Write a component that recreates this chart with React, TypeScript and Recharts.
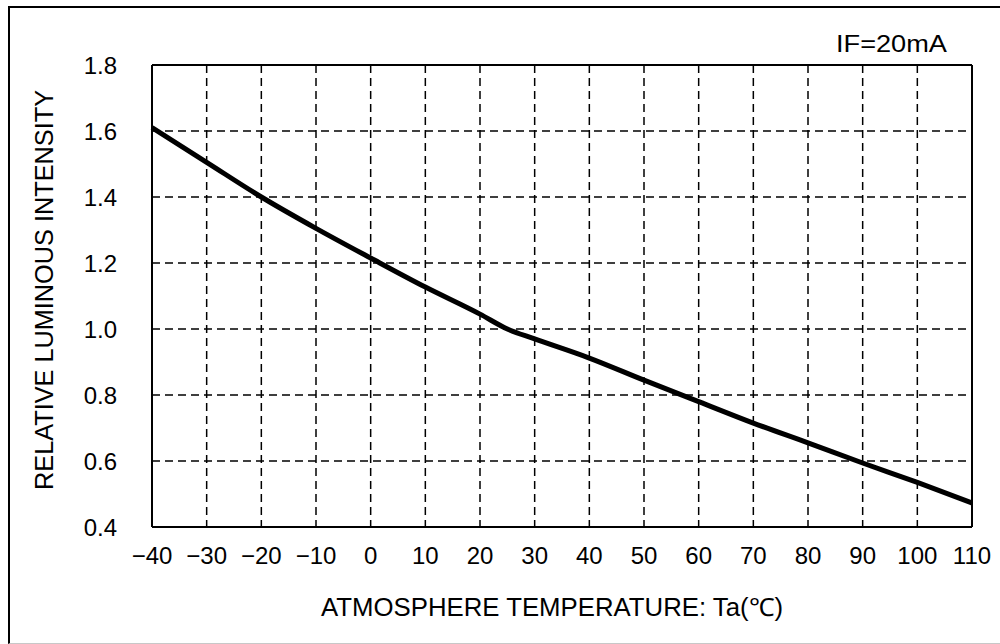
import React from "react";
import {
  LineChart,
  Line,
  XAxis,
  YAxis,
  CartesianGrid,
  ReferenceLine,
  Label,
  Customized,
} from "recharts";

// Ta (°C) vs relative luminous intensity, IF = 20mA
const temperatures: number[] = [-40, -30, -20, -10, 0, 10, 20, 25, 30, 40, 50, 60, 70, 80, 90, 100, 110];
const luminosity: number[] = [1.61, 1.505, 1.4, 1.305, 1.215, 1.127, 1.045, 1.0, 0.97, 0.912, 0.845, 0.78, 0.715, 0.655, 0.594, 0.535, 0.473];

const xTicks: number[] = [-40, -30, -20, -10, 0, 10, 20, 30, 40, 50, 60, 70, 80, 90, 100, 110];
const yTicks: number[] = [0.4, 0.6, 0.8, 1.0, 1.2, 1.4, 1.6, 1.8];

const xTitle = "ATMOSPHERE TEMPERATURE: Ta(\u2103)";
const yTitle = "RELATIVE LUMINOUS INTENSITY";
const condition = "IF=20mA";

const data = temperatures.map((t, i) => ({ t, v: luminosity[i] }));

const FONT = '"Liberation Sans Narrow", "Liberation Sans", Arial, sans-serif';

const formatX = (v: number) => (v < 0 ? `\u2212${Math.abs(v)}` : `${v}`);

const ConditionText = () => (
  <text
    x={836}
    y={43}
    dominantBaseline="central"
    fontFamily={FONT}
    fontSize={24}
    fill="#000"
    textLength={111}
    lengthAdjust="spacingAndGlyphs"
  >
    {condition}
  </text>
);

const App = () => {
  return (
    <div
      style={{
        position: "absolute",
        left: 0,
        top: 0,
        width: 1000,
        height: 644,
        background: "#fff",
      }}
    >
      {/* outer frame of the figure */}
      <div
        style={{
          position: "absolute",
          left: 8,
          top: 6,
          width: 990,
          height: 635,
          borderLeft: "2px solid #000",
          borderTop: "2px solid #000",
          borderBottom: "1px solid #c8c8c8",
        }}
      />
      <div style={{ position: "absolute", left: 0, top: 0 }}>
        <LineChart
          width={1000}
          height={644}
          data={data}
          margin={{ top: 65, right: 28, bottom: 77, left: 82 }}
        >
          <CartesianGrid
            stroke="#000"
            strokeWidth={1.5}
            strokeDasharray="8 5"
          />
          <XAxis
            dataKey="t"
            type="number"
            domain={[-40, 110]}
            ticks={xTicks}
            tickFormatter={formatX}
            interval={0}
            height={40}
            tickLine={false}
            tickSize={0}
            tickMargin={20}
            axisLine={{ stroke: "#000", strokeWidth: 2 }}
            tick={{ fill: "#000", fontSize: 24, fontFamily: FONT }}
          >
            <Label
              content={() => (
                <text
                  x={321}
                  y={607}
                  dominantBaseline="central"
                  fontFamily={FONT}
                  fontSize={25}
                  fill="#000"
                  textLength={462}
                  lengthAdjust="spacingAndGlyphs"
                >
                  {xTitle}
                </text>
              )}
            />
          </XAxis>
          <YAxis
            type="number"
            domain={[0.4, 1.8]}
            ticks={yTicks}
            tickFormatter={(v: number) => v.toFixed(1)}
            interval={0}
            width={70}
            tickLine={false}
            tickSize={0}
            tickMargin={35}
            axisLine={{ stroke: "#000", strokeWidth: 2 }}
            tick={{ fill: "#000", fontSize: 24, fontFamily: FONT }}
          >
            <Label
              content={() => (
                <text
                  x={44}
                  y={290}
                  transform="rotate(-90, 44, 290)"
                  textAnchor="middle"
                  dominantBaseline="central"
                  fontFamily={FONT}
                  fontSize={25}
                  fill="#000"
                  textLength={400}
                  lengthAdjust="spacingAndGlyphs"
                >
                  {yTitle}
                </text>
              )}
            />
          </YAxis>
          <ReferenceLine y={1.8} stroke="#000" strokeWidth={2} />
          <ReferenceLine x={110} stroke="#000" strokeWidth={2} />
          <Line
            type="monotone"
            dataKey="v"
            stroke="#000"
            strokeWidth={5}
            dot={false}
            activeDot={false}
            isAnimationActive={false}
          />
          <Customized component={ConditionText} />
        </LineChart>
      </div>
    </div>
  );
};

export default App;
